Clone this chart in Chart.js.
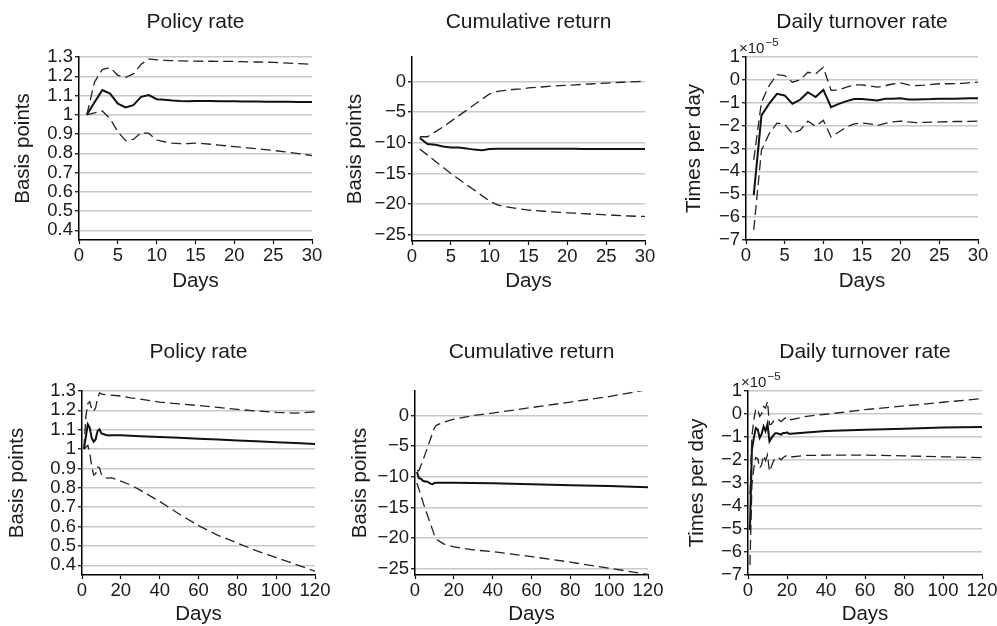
<!DOCTYPE html>
<html><head><meta charset="utf-8">
<script src="https://cdn.jsdelivr.net/npm/chart.js@4.4.1/dist/chart.umd.min.js"></script>
<style>
html,body{margin:0;padding:0;background:#fff;width:997px;height:626px;overflow:hidden;position:relative}
canvas{position:absolute}
</style></head><body>
<canvas id="c1"></canvas><canvas id="c2"></canvas><canvas id="c3"></canvas>
<canvas id="c4"></canvas><canvas id="c5"></canvas><canvas id="c6"></canvas>
<script>
// ---------- DATA ----------
const days30 = [1,2,3,4,5,6,7,8,9,10,11,12,13,14,15,16,17,18,19,20,21,22,23,24,25,26,27,28,29,30];
const xTicks30 = [0,5,10,15,20,25,30];
const xTicks120 = [0,20,40,60,80,100,120];

const policyTicks = [0.4,0.5,0.6,0.7,0.8,0.9,1,1.1,1.2,1.3];
const policyLabels = ['0.4','0.5','0.6','0.7','0.8','0.9','1','1.1','1.2','1.3'];
const returnTicks = [-25,-20,-15,-10,-5,0];
const returnLabels = ['\u221225','\u221220','\u221215','\u221210','\u22125','0'];
const turnTicks = [-7,-6,-5,-4,-3,-2,-1,0,1];
const turnLabels = ['\u22127','\u22126','\u22125','\u22124','\u22123','\u22122','\u22121','0','1'];

// Policy rate, 30 days
const policy30Mid = [1.0,1.065,1.128,1.11,1.058,1.038,1.05,1.093,1.102,1.081,1.078,1.074,1.071,1.070,1.072,1.071,1.071,1.070,1.070,1.070,1.069,1.069,1.069,1.068,1.068,1.068,1.068,1.067,1.067,1.067];
const policy30Hi  = [1.0,1.17,1.235,1.245,1.205,1.195,1.212,1.262,1.29,1.285,1.283,1.281,1.28,1.279,1.279,1.278,1.278,1.277,1.277,1.277,1.276,1.275,1.274,1.273,1.272,1.270,1.268,1.266,1.264,1.262];
const policy30Lo  = [1.0,1.01,1.02,0.98,0.912,0.866,0.872,0.908,0.903,0.869,0.86,0.853,0.85,0.85,0.853,0.85,0.847,0.843,0.839,0.835,0.831,0.827,0.823,0.819,0.815,0.81,0.805,0.8,0.795,0.788];

// Cumulative return, 30 days
const return30Mid = [-9.2,-10.2,-10.3,-10.6,-10.75,-10.75,-10.9,-11.1,-11.2,-11.0,-10.95,-10.95,-10.95,-10.95,-10.95,-10.95,-10.95,-10.96,-10.96,-10.97,-10.97,-10.98,-10.98,-10.98,-10.99,-10.99,-11.0,-11.0,-11.0,-11.0];
const return30Hi  = [-9.0,-9.0,-8.2,-7.4,-6.5,-5.6,-4.7,-3.8,-2.9,-2.0,-1.6,-1.45,-1.3,-1.2,-1.05,-0.95,-0.85,-0.75,-0.67,-0.6,-0.53,-0.46,-0.4,-0.32,-0.25,-0.18,-0.12,-0.06,0.0,0.05];
const return30Lo  = [-11.0,-12.0,-13.0,-14.0,-15.0,-15.9,-16.8,-17.7,-18.6,-19.5,-20.1,-20.4,-20.6,-20.8,-20.95,-21.05,-21.15,-21.25,-21.33,-21.4,-21.47,-21.54,-21.6,-21.67,-21.74,-21.8,-21.86,-21.92,-21.97,-22.0];

// Daily turnover rate (x1e-5), 30 days
const turn30Mid = [-5.04,-1.55,-1.04,-0.61,-0.68,-1.04,-0.87,-0.54,-0.75,-0.44,-1.19,-1.05,-0.93,-0.84,-0.84,-0.87,-0.9,-0.83,-0.83,-0.8,-0.86,-0.86,-0.85,-0.84,-0.82,-0.82,-0.82,-0.81,-0.8,-0.8];
const turn30Hi  = [-3.5,-0.97,-0.25,0.23,0.19,-0.1,0.0,0.33,0.26,0.55,-0.46,-0.44,-0.32,-0.22,-0.22,-0.27,-0.32,-0.25,-0.18,-0.13,-0.22,-0.25,-0.23,-0.2,-0.17,-0.17,-0.16,-0.15,-0.12,-0.1];
const turn30Lo  = [-6.56,-3.08,-2.35,-1.89,-1.94,-2.35,-2.2,-1.8,-2.03,-1.77,-2.5,-2.28,-2.06,-1.92,-1.89,-1.92,-1.99,-1.9,-1.84,-1.8,-1.84,-1.87,-1.86,-1.85,-1.84,-1.83,-1.82,-1.82,-1.81,-1.8];

// Policy rate, 120 days
const policy120Days = [1,2,3,4,5,6,7,8,9,10,11,12,13,14,15,20,25,30,40,50,60,70,80,90,100,110,120];
const policy120Mid = [1.0,1.065,1.128,1.11,1.058,1.038,1.05,1.093,1.102,1.081,1.078,1.074,1.071,1.070,1.072,1.071,1.069,1.067,1.062,1.058,1.053,1.049,1.044,1.040,1.036,1.031,1.027];
const policy120Hi  = [1.0,1.17,1.235,1.245,1.205,1.195,1.212,1.262,1.29,1.285,1.283,1.281,1.28,1.279,1.279,1.274,1.265,1.258,1.243,1.233,1.225,1.215,1.205,1.197,1.19,1.186,1.192];
const policy120Lo  = [1.0,1.01,1.02,0.98,0.912,0.866,0.872,0.908,0.903,0.869,0.86,0.853,0.85,0.85,0.853,0.835,0.815,0.788,0.73,0.665,0.605,0.555,0.515,0.475,0.44,0.405,0.37];

// Cumulative return, 120 days
const return120Days = [1,2,3,4,5,6,7,8,9,10,11,12,15,20,30,40,60,80,100,120];
const return120Mid = [-9.2,-10.2,-10.3,-10.6,-10.75,-10.75,-10.9,-11.1,-11.2,-11.0,-10.95,-10.95,-10.95,-10.97,-11.0,-11.05,-11.2,-11.35,-11.5,-11.7];
const return120Hi  = [-9.0,-9.0,-8.2,-7.4,-6.5,-5.6,-4.7,-3.8,-2.9,-2.0,-1.6,-1.45,-1.05,-0.6,0.0,0.4,1.3,2.2,3.1,4.25];
const return120Lo  = [-11.0,-12.0,-13.0,-14.0,-15.0,-15.9,-16.8,-17.7,-18.6,-19.5,-20.1,-20.4,-20.95,-21.4,-21.9,-22.2,-23.0,-23.9,-24.9,-25.9];

// Daily turnover rate (x1e-5), 120 days
const turn120Days = [1,2,3,4,5,6,7,8,9,10,11,12,13,14,15,16,17,18,19,20,21,22,30,40,60,80,100,120];
const turn120Mid = [-5.04,-1.55,-1.04,-0.61,-0.68,-1.04,-0.87,-0.54,-0.75,-0.44,-1.19,-1.05,-0.93,-0.84,-0.84,-0.87,-0.9,-0.83,-0.83,-0.8,-0.86,-0.86,-0.8,-0.74,-0.68,-0.64,-0.59,-0.56];
const turn120Hi  = [-3.5,-0.97,-0.25,0.23,0.19,-0.1,0.0,0.33,0.26,0.55,-0.46,-0.44,-0.32,-0.22,-0.22,-0.27,-0.32,-0.25,-0.18,-0.13,-0.22,-0.25,-0.1,-0.01,0.19,0.35,0.51,0.67];
const turn120Lo  = [-6.56,-3.08,-2.35,-1.89,-1.94,-2.35,-2.2,-1.8,-2.03,-1.77,-2.5,-2.28,-2.06,-1.92,-1.89,-1.92,-1.99,-1.9,-1.84,-1.8,-1.84,-1.87,-1.8,-1.79,-1.79,-1.82,-1.86,-1.9];

// ---------- PANELS ----------
const panels = [
  {id:'c1', title:'Policy rate', yTitle:'Basis points', days:days30, mid:policy30Mid, hi:policy30Hi, lo:policy30Lo, xMax:30, xTicks:xTicks30, yMin:0.35, yMax:1.3, yTicks:policyTicks, yLabels:policyLabels, exp:false},
  {id:'c2', title:'Cumulative return', yTitle:'Basis points', days:days30, mid:return30Mid, hi:return30Hi, lo:return30Lo, xMax:30, xTicks:xTicks30, yMin:-26, yMax:4, yTicks:returnTicks, yLabels:returnLabels, exp:false},
  {id:'c3', title:'Daily turnover rate', yTitle:'Times per day', days:days30, mid:turn30Mid, hi:turn30Hi, lo:turn30Lo, xMax:30, xTicks:xTicks30, yMin:-7, yMax:1, yTicks:turnTicks, yLabels:turnLabels, exp:true},
  {id:'c4', title:'Policy rate', yTitle:'Basis points', days:policy120Days, mid:policy120Mid, hi:policy120Hi, lo:policy120Lo, xMax:120, xTicks:xTicks120, yMin:0.35, yMax:1.3, yTicks:policyTicks, yLabels:policyLabels, exp:false},
  {id:'c5', title:'Cumulative return', yTitle:'Basis points', days:return120Days, mid:return120Mid, hi:return120Hi, lo:return120Lo, xMax:120, xTicks:xTicks120, yMin:-26, yMax:4, yTicks:returnTicks, yLabels:returnLabels, exp:false},
  {id:'c6', title:'Daily turnover rate', yTitle:'Times per day', days:turn120Days, mid:turn120Mid, hi:turn120Hi, lo:turn120Lo, xMax:120, xTicks:xTicks120, yMin:-7, yMax:1, yTicks:turnTicks, yLabels:turnLabels, exp:true}
];

// layout geometry (px)
const geo = {
  c1:{left:0,   top:0,   w:332, h:300, yW:79, xH:60, padR:20, tT:9.5,  tB:22.3, ytPT:11,   xtPB:6},
  c2:{left:332, top:0,   w:333, h:300, yW:80, xH:59, padR:20, tT:9.5,  tB:22.3, ytPT:11,   xtPB:6},
  c3:{left:665, top:0,   w:332, h:300, yW:81, xH:60, padR:19, tT:9.5,  tB:22.3, ytPT:17,   xtPB:6},
  c4:{left:0,   top:310, w:335, h:320, yW:82, xH:55, padR:20, tT:30,   tB:25.8, ytPT:5,    xtPB:3},
  c5:{left:335, top:310, w:333, h:320, yW:80, xH:55, padR:20, tT:30,   tB:25.8, ytPT:13,   xtPB:3},
  c6:{left:668, top:310, w:334, h:320, yW:80, xH:55, padR:20, tT:30,   tB:25.8, ytPT:17,   xtPB:3}
};

const FONT = '"Liberation Sans", Arial, Helvetica, sans-serif';
const TXT = '#1a1a1a';
Chart.defaults.font.family = FONT;
Chart.defaults.color = TXT;

const expPlugin = {
  id:'expLabel',
  afterDraw(chart, args, opts){
    if(!opts.show) return;
    const ctx = chart.ctx, a = chart.chartArea;
    ctx.save();
    ctx.fillStyle = TXT;
    ctx.textBaseline = 'alphabetic';
    ctx.textAlign = 'left';
    ctx.font = '15px ' + FONT;
    const x0 = a.left - 7, y0 = a.top - 4;
    ctx.fillText('\u00d710', x0, y0);
    const w = ctx.measureText('\u00d710').width;
    ctx.font = '11.5px ' + FONT;
    ctx.fillText('\u22125', x0 + w + 1, y0 - 7);
    ctx.restore();
  }
};

function pts(days, vals){ return days.map((d,i)=>({x:d, y:vals[i]})); }

panels.forEach(p=>{
  const g = geo[p.id];
  const cv = document.getElementById(p.id);
  cv.width = g.w; cv.height = g.h;
  cv.style.left = g.left+'px'; cv.style.top = g.top+'px';
  cv.style.width = g.w+'px'; cv.style.height = g.h+'px';
  const dashed = {borderColor:'#222', borderWidth:1.3, borderDash:[10,5], pointRadius:0, tension:0, fill:false};
  new Chart(cv, {
    type:'line',
    data:{datasets:[
      Object.assign({label:'upper', data:pts(p.days,p.hi)}, dashed),
      Object.assign({label:'lower', data:pts(p.days,p.lo)}, dashed),
      {label:'estimate', data:pts(p.days,p.mid), borderColor:'#111', borderWidth:2, pointRadius:0, tension:0, fill:false}
    ]},
    options:{
      responsive:false, animation:false, devicePixelRatio:1,
      layout:{padding:{left:0,right:g.padR,top:0,bottom:0}},
      plugins:{
        legend:{display:false}, tooltip:{enabled:false},
        title:{display:true, text:p.title, fullSize:false, color:TXT, font:{size:21, weight:'normal'}, padding:{top:g.tT,bottom:g.tB}},
        expLabel:{show:p.exp}
      },
      scales:{
        x:{type:'linear', min:0, max:p.xMax,
           afterBuildTicks:s=>{ s.ticks = p.xTicks.map(v=>({value:v})); },
           afterFit:s=>{ s.height = g.xH; },
           grid:{drawOnChartArea:false, drawTicks:true, tickLength:4, tickColor:'#000', tickWidth:1.2},
           border:{color:'#000', width:1.5},
           ticks:{font:{size:18.5}, color:TXT, padding:1, maxRotation:0, autoSkip:false, callback:(v)=>String(v)},
           title:{display:true, text:'Days', color:TXT, font:{size:20.5}, padding:{top:0,bottom:g.xtPB}}
        },
        y:{type:'linear', min:p.yMin, max:p.yMax,
           afterBuildTicks:s=>{ s.ticks = p.yTicks.map(v=>({value:v})); },
           afterFit:s=>{ s.width = g.yW; },
           grid:{color:'#c8c8c8', lineWidth:1.5, drawTicks:true, tickLength:4, tickColor:'#000', tickWidth:1.2},
           border:{color:'#000', width:1.5},
           ticks:{font:{size:18.5}, color:TXT, padding:2, autoSkip:false, callback:(v,i)=>p.yLabels[i]},
           title:{display:true, text:p.yTitle, color:TXT, font:{size:20.5}, padding:{top:g.ytPT,bottom:0}}
        }
      }
    },
    plugins:[expPlugin]
  });
});
</script>
</body></html>
